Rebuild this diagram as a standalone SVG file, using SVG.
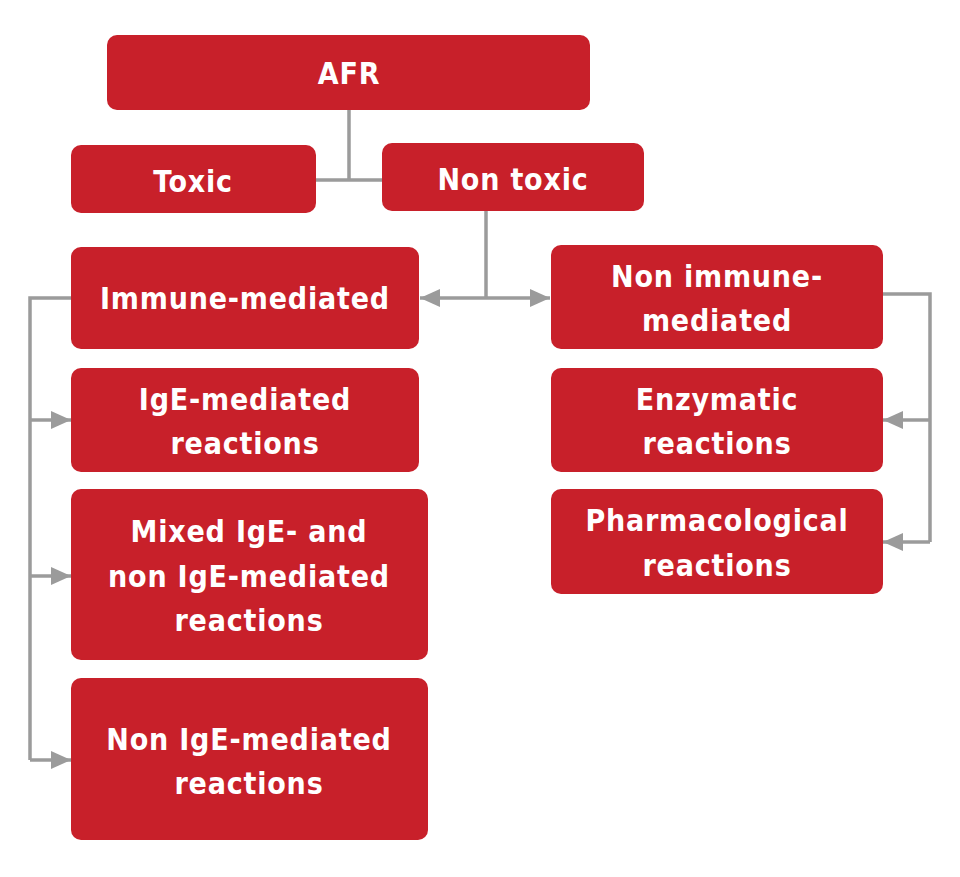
<svg xmlns="http://www.w3.org/2000/svg" width="960" height="877" viewBox="0 0 960 877">
<defs>
<marker id="ah" viewBox="0 0 20 18" refX="20" refY="9" markerWidth="20" markerHeight="18" markerUnits="userSpaceOnUse" orient="auto-start-reverse">
<path d="M0,0 L20,9 L0,18 Z" fill="#9b9b9b"/>
</marker>
</defs>
<style>
.box{fill:#c8202a;}
.t{font-family:"DejaVu Sans Condensed","DejaVu Sans",sans-serif;font-stretch:condensed;font-weight:bold;font-size:30px;letter-spacing:0.8px;fill:#ffffff;text-anchor:middle;}
.c{fill:none;stroke:#9b9b9b;stroke-width:3.5;}
</style>
<rect width="960" height="877" fill="#ffffff"/>
<g id="connectors">
<path class="c" d="M349,110 V180 M316,180 H382"/>
<path class="c" d="M486,211 V298"/>
<path class="c" d="M486,298 H420" marker-end="url(#ah)"/>
<path class="c" d="M486,298 H550" marker-end="url(#ah)"/>
<path class="c" d="M71,298 H30 V760"/>
<path class="c" d="M30,420 H71" marker-end="url(#ah)"/>
<path class="c" d="M30,576 H71" marker-end="url(#ah)"/>
<path class="c" d="M30,760 H71" marker-end="url(#ah)"/>
<path class="c" d="M883,294 H930 V542"/>
<path class="c" d="M930,420 H883" marker-end="url(#ah)"/>
<path class="c" d="M930,542 H883" marker-end="url(#ah)"/>
</g>
<g id="afr"><rect class="box" x="107" y="35" width="483" height="75" rx="10"/><text class="t" x="349" y="84">AFR</text></g>
<g id="toxic"><rect class="box" x="71" y="145" width="245" height="68" rx="10"/><text class="t" x="193" y="192">Toxic</text></g>
<g id="nontoxic"><rect class="box" x="382" y="143" width="262" height="68" rx="10"/><text class="t" x="513" y="190">Non toxic</text></g>
<g id="immune"><rect class="box" x="71" y="247" width="348" height="102" rx="10"/><text class="t" x="245" y="309">Immune-mediated</text></g>
<g id="nonimmune"><rect class="box" x="551" y="245" width="332" height="104" rx="10"/><text class="t" x="717" y="287">Non immune-</text><text class="t" x="717" y="331">mediated</text></g>
<g id="ige"><rect class="box" x="71" y="368" width="348" height="104" rx="10"/><text class="t" x="245" y="410">IgE-mediated</text><text class="t" x="245" y="454">reactions</text></g>
<g id="mixed"><rect class="box" x="71" y="489" width="357" height="171" rx="10"/><text class="t" x="249" y="542">Mixed IgE- and</text><text class="t" x="249" y="587">non IgE-mediated</text><text class="t" x="249" y="631">reactions</text></g>
<g id="nonige"><rect class="box" x="71" y="678" width="357" height="162" rx="10"/><text class="t" x="249" y="750">Non IgE-mediated</text><text class="t" x="249" y="794">reactions</text></g>
<g id="enzymatic"><rect class="box" x="551" y="368" width="332" height="104" rx="10"/><text class="t" x="717" y="410">Enzymatic</text><text class="t" x="717" y="454">reactions</text></g>
<g id="pharma"><rect class="box" x="551" y="489" width="332" height="105" rx="10"/><text class="t" x="717" y="531">Pharmacological</text><text class="t" x="717" y="576">reactions</text></g>
</svg>
